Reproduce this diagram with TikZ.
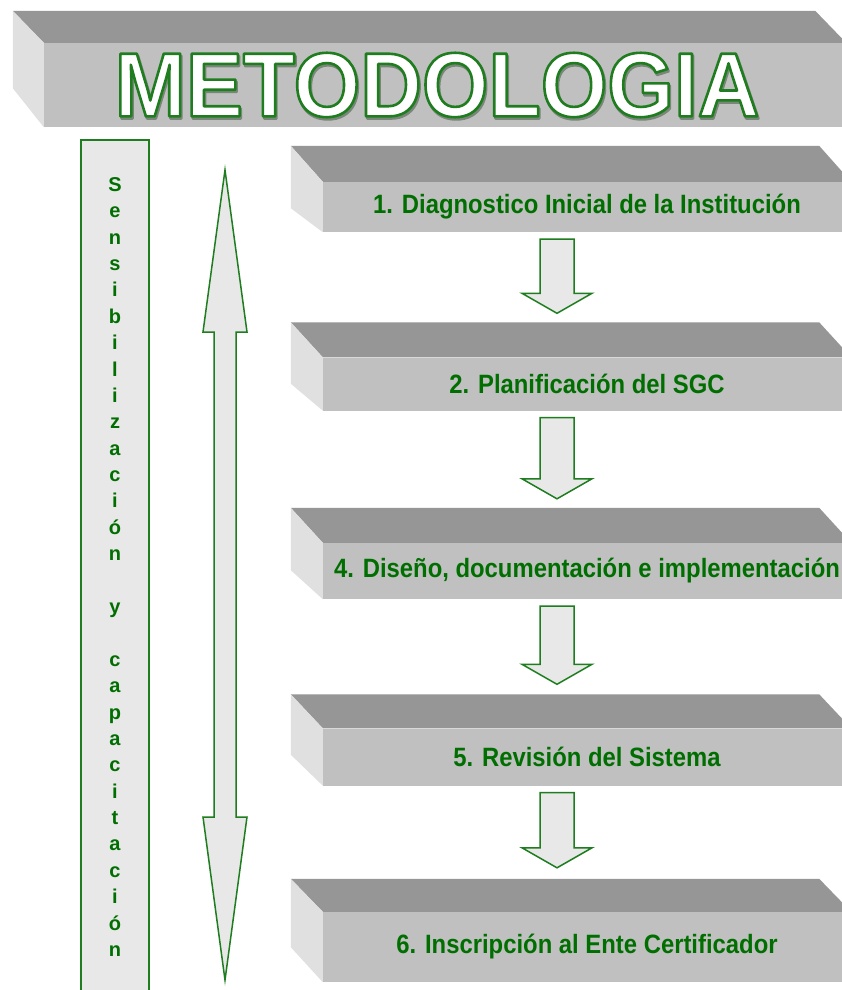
\documentclass[tikz,border=0pt]{standalone}
\usepackage{fontspec}
\setmainfont{Liberation Sans}
\newfontfamily\estrecha[FakeStretch=0.9]{Liberation Sans}
\newfontfamily\anchafont[FakeStretch=0.94]{Liberation Sans}
\usetikzlibrary{calc}
\tikzset{>=latex}

\definecolor{verdetxt}{RGB}{0,110,0}
\definecolor{verdeborde}{RGB}{30,125,30}
\definecolor{grisfrente}{RGB}{192,192,192}
\definecolor{gristapa}{RGB}{150,150,150}
\definecolor{grislado}{RGB}{224,224,224}
\definecolor{grisflecha}{RGB}{232,232,232}
\definecolor{grissombra}{RGB}{120,135,120}

% texto con contorno verde (modo de trazo del pdf)
\newcommand{\contorno}[2]{\special{pdf:literal direct #1 RG 2.6 w 1 j 2 Tr}#2\special{pdf:literal direct 0 Tr}}

\tikzset{
  cara/.style={fill=grisfrente, inner sep=0pt, minimum width=528pt,
    text=verdetxt, font=\estrecha\bfseries\fontsize{26.5}{30}\selectfont},
  titulotxt/.style={inner sep=0pt, text=white, font=\anchafont\bfseries\fontsize{91}{100}\selectfont},
  flecha/.style={draw=verdeborde, line width=1.5pt, fill=grisflecha, line join=miter},
  cajav/.style={draw=verdeborde, line width=1.2pt, fill=grisflecha,
    minimum width=68pt, minimum height=860pt, inner sep=0pt},
  letra/.style={inner sep=0pt, text=verdetxt,
    font=\bfseries\fontsize{20}{22}\selectfont}
}

\begin{document}
\begin{tikzpicture}[x=1pt,y=-1pt]
\useasboundingbox (0,0) rectangle (842,990);
\clip (0,0) rectangle (842,990);
\fill[white] (0,0) rectangle (842,990);

% titulo
\node[fill=grisfrente, inner sep=0pt, minimum width=802pt, minimum height=84pt] (titulo) at (445,85) {};
\fill[gristapa] (titulo.north west) -- ++(-31,-32) -- ($(titulo.north east)+(-31,-32)$) -- (titulo.north east) -- cycle;
\fill[grislado] (titulo.north west) -- ++(-31,-32) -- ($(titulo.south west)+(-31,-39)$) -- (titulo.south west) -- cycle;
\node[titulotxt, text=grissombra] (sombra) at ($(titulo.center)+(-6.8,2.2)$) {\contorno{0.47 0.53 0.47}{METODOLOGIA}};
\node[titulotxt] (tit) at ($(titulo.center)+(-8,0)$) {\contorno{0.12 0.49 0.12}{METODOLOGIA}};

% pasos
\node[cara, minimum height=50pt] (b1) at (587,207) {1. Diagnostico Inicial de la Institución};
\node[cara, minimum height=53pt] (b2) at (587,384) {2. Planificación del SGC};
\node[cara, minimum height=56pt] (b3) at (587,571) {4. Diseño, documentación e implementación};
\node[cara, minimum height=57pt] (b4) at (587,757) {5. Revisión del Sistema};
\node[cara, minimum height=70pt] (b5) at (587,947) {6. Inscripción al Ente Certificador};

\foreach \n/\dt/\db in {b1/36/24, b2/35/27, b3/35/29, b4/34/31, b5/33/35}{
  \fill[gristapa] (\n.north west) -- ++(-32,-\dt) -- ($(\n.north east)+(-32,-\dt)$) -- (\n.north east) -- cycle;
  \fill[grislado] (\n.north west) -- ++(-32,-\dt) -- ($(\n.south west)+(-32,-\db)$) -- (\n.south west) -- cycle;
}

\foreach \a/\b in {b1/b2, b2/b3, b3/b4, b4/b5}
  \draw[flecha] let \p1=($(\a.south)+(-30,7)$), \p2=($(\b.north)+(-30,-44)$) in
    (\x1-17,\y1) -- (\x1+17,\y1) -- (\x1+17,\y2+20) -- (\x1+35,\y2+20) -- (\x1,\y2)
    -- (\x1-35,\y2+20) -- (\x1-17,\y2+20) -- cycle;

% sensibilizacion y capacitacion
\node[cajav] (sens) at (115,570) {};
\foreach \c [count=\i] in {S,e,n,s,i,b,i,l,i,z,a,c,i,ó,n,{},y,{},c,a,p,a,c,i,t,a,c,i,ó,n}
  \node[letra, anchor=base] (l\i) at ($(sens.north)+(0,52+26.38*\i-26.38)$) {\c};

\draw[flecha] (225,170) -- (247,332) -- (236,332) -- (236,817) -- (247,817) -- (225,980)
  -- (203,817) -- (214,817) -- (214,332) -- (203,332) -- cycle;

\end{tikzpicture}
\end{document}
